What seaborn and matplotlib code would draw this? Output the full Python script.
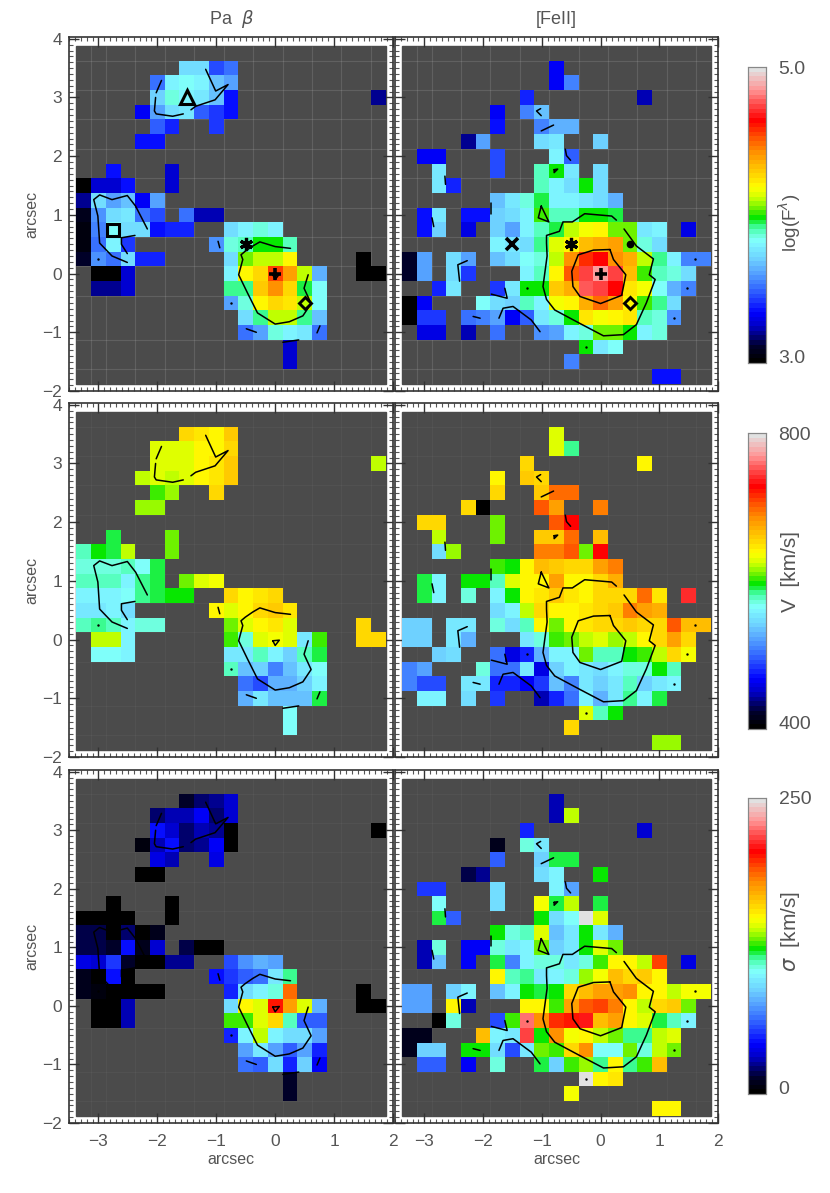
import numpy as np
import pandas as pd
import matplotlib
matplotlib.use("Agg")
import matplotlib.pyplot as plt
import seaborn as sns
from matplotlib.colors import LinearSegmentedColormap
from matplotlib.patches import Rectangle
from matplotlib.ticker import MultipleLocator
from matplotlib.transforms import Affine2D

N_COLS = 21
N_ROWS = 23
PIX = 0.25


def row(segments=None):
    # segments = {first column: [values]}, everything else has no data
    cells = [np.nan] * N_COLS
    for start, values in (segments or {}).items():
        cells[start:start + len(values)] = values
    return cells


x_centers = [-3.25 + PIX * i for i in range(N_COLS)]
y_centers = [3.75 - PIX * i for i in range(N_ROWS)]

# log flux, Pa beta
flux_pab = [
    row(),
    row({7: [3.72, 3.72, 3.44, 3.50]}),
    row({5: [3.52, 3.80, 3.84, 3.80, 3.66, 3.62]}),
    row({5: [3.70, 3.87, 3.80, 3.78, 3.68, 3.35], 20: [3.20]}),
    row({4: [3.33, 3.62, 3.72, 3.75, 3.48, 3.42, 3.36]}),
    row({5: [3.47, 3.38], 9: [3.42]}),
    row({4: [3.37, 3.37]}),
    row(),
    row({2: [3.37], 6: [3.25]}),
    row({0: [3.00, 3.28, 3.28, 3.35], 6: [3.25]}),
    row({0: [3.20, 3.72, 3.62, 3.68, 3.33, 3.60]}),
    row({0: [3.07, 3.58, 3.72, 3.78, 3.52, 3.46], 7: [3.52, 3.24, 3.24]}),
    row({0: [3.05, 3.56, 3.82, 3.72, 3.72, 3.35, 3.40, 3.40], 10: [3.72, 3.80, 3.87, 3.80]}),
    row({0: [3.05, 3.52, 3.80, 3.42], 9: [3.58, 3.87, 3.90, 3.98, 3.98, 3.90]}),
    row({0: [3.10, 3.58, 3.52, 3.72, 3.40, 3.40], 10: [3.72, 4.05, 4.12, 4.12, 4.19], 19: [3.00]}),
    row({1: [3.00, 3.00, 3.28], 10: [3.80, 4.20, 4.27, 4.55, 4.40, 4.10, 3.65], 19: [3.00, 3.00]}),
    row({1: [3.20, 3.20, 3.28], 10: [3.92, 3.92, 4.30, 4.42, 4.25, 3.94, 3.82]}),
    row({10: [3.60, 3.85, 4.19, 4.25, 4.22, 4.12, 3.82]}),
    row({11: [3.72, 3.93, 4.10, 4.10, 3.93, 3.66]}),
    row({11: [3.50, 3.62, 3.87, 3.80, 3.78, 3.52]}),
    row({14: [3.28]}),
    row({14: [3.28]}),
    row(),
]

# log flux, [FeII]
flux_fe = [
    row(),
    row({10: [3.33]}),
    row({10: [3.33, 3.55]}),
    row({8: [3.40], 16: [3.22]}),
    row({6: [3.33], 8: [3.55, 3.66]}),
    row({6: [3.36], 9: [3.55, 3.65, 3.65]}),
    row({4: [3.20, 3.62], 9: [3.72, 3.75], 13: [3.70]}),
    row({1: [3.33, 3.33], 6: [3.44], 10: [3.80, 3.47]}),
    row({2: [3.78], 6: [3.44], 9: [3.90, 3.97, 3.78], 13: [3.72]}),
    row({2: [3.75, 3.40], 9: [3.88, 3.80, 3.74, 3.98, 3.72]}),
    row({6: [3.66, 3.75, 3.85, 3.94, 3.80, 3.80, 3.78, 3.74, 3.64]}),
    row({1: [3.36, 3.75], 4: [3.37, 3.37, 3.70, 3.73, 3.80, 4.00, 3.88, 3.88, 3.98, 3.97, 3.94]}),
    row({1: [3.36, 3.70], 4: [3.30], 6: [3.70, 3.62, 3.80, 3.90, 3.94, 4.10, 4.18, 4.19, 4.06, 4.05, 3.75, 3.80], 19: [3.30]}),
    row({6: [3.80, 3.78, 3.72, 3.92, 4.15, 4.20, 4.32, 4.36, 4.40, 4.05, 3.86, 3.74]}),
    row({0: [3.10, 3.62], 3: [3.72, 3.62], 6: [3.68, 3.72, 3.82, 3.87, 4.10, 4.42, 4.58, 4.65, 4.42, 4.36, 4.10, 3.92, 3.80, 3.55, 3.55]}),
    row({0: [3.10, 3.62], 3: [3.74, 3.42], 8: [3.80, 3.90, 4.19, 4.50, 4.72, 4.85, 4.72, 4.33, 4.02, 3.88, 3.85, 3.72]}),
    row({2: [3.38, 3.75], 6: [3.42, 3.75, 3.98, 3.98, 4.30, 4.36, 4.78, 4.72, 4.65, 4.22, 4.17, 3.82, 3.65, 3.55]}),
    row({0: [3.00, 3.33], 5: [3.82, 3.74, 3.70, 3.90, 3.80, 4.17, 4.20, 4.35, 4.47, 4.38, 4.20, 4.02, 3.92, 3.72]}),
    row({0: [3.00, 3.42, 3.42], 4: [3.52, 3.55, 3.62, 3.33, 3.48, 3.78, 3.87, 3.98, 4.23, 4.18, 4.20, 4.22, 3.88, 3.85, 3.58]}),
    row({1: [3.30, 3.30], 4: [3.22], 6: [3.50], 9: [3.58, 3.62, 3.80, 3.87, 4.05, 4.06, 3.98, 3.80, 3.85]}),
    row({12: [3.98, 3.78, 3.82]}),
    row({11: [3.55]}),
    row({17: [3.36, 3.36]}),
]

# velocity, Pa beta
vel_pab = [
    row(),
    row({7: [650, 648, 638, 660]}),
    row({5: [625, 630, 625, 638, 640, 655]}),
    row({5: [630, 628, 628, 640, 645, 660], 20: [620]}),
    row({4: [622, 630, 620, 628, 640, 648, 660]}),
    row({5: [605, 618], 9: [652]}),
    row({4: [615, 615]}),
    row(),
    row({2: [588], 6: [610]}),
    row({0: [578, 596, 592, 622], 6: [610]}),
    row({0: [572, 572, 572, 575, 568, 588]}),
    row({0: [575, 575, 578, 562, 585, 588], 7: [612, 630, 632]}),
    row({0: [558, 558, 558, 564, 584, 590, 598, 598], 10: [655, 640, 648, 650]}),
    row({0: [554, 556, 560, 545], 9: [638, 625, 640, 650, 662, 645]}),
    row({0: [580, 585, 575, 560, 572, 572], 10: [612, 630, 638, 645, 630], 19: [652]}),
    row({1: [622, 622, 560], 10: [602, 572, 628, 635, 628, 555, 606], 19: [652, 652]}),
    row({1: [568, 568, 560], 10: [552, 552, 575, 558, 542, 575, 590]}),
    row({10: [580, 535, 540, 510, 535, 550, 566]}),
    row({11: [500, 490, 530, 530, 542, 558]}),
    row({11: [525, 550, 532, 535, 535, 590]}),
    row({14: [568]}),
    row({14: [568]}),
    row(),
]

# velocity, [FeII]
vel_fe = [
    row(),
    row({10: [630]}),
    row({10: [630, 585]}),
    row({8: [652], 16: [640]}),
    row({6: [640], 8: [660, 655]}),
    row({6: [652], 9: [658, 695, 695]}),
    row({4: [650, 400], 9: [705, 680], 13: [690]}),
    row({1: [650, 650], 6: [612], 10: [705, 725]}),
    row({2: [622], 6: [612], 9: [660, 662, 695], 13: [665]}),
    row({2: [545, 618], 9: [690, 690, 705, 612, 730]}),
    row({6: [604, 595, 638, 668, 660, 655, 650, 675, 690]}),
    row({1: [592, 560], 4: [594, 594, 580, 625, 638, 640, 675, 640, 640, 650, 670]}),
    row({1: [592, 562], 4: [570], 6: [560, 594, 640, 645, 660, 648, 640, 652, 650, 650, 695, 648], 19: [738]}),
    row({6: [548, 560, 622, 650, 640, 640, 645, 650, 660, 688, 675, 672]}),
    row({0: [540, 540], 3: [550, 555], 6: [570, 548, 575, 640, 610, 640, 645, 650, 655, 660, 655, 650, 705, 665, 665]}),
    row({0: [540, 540], 3: [555, 525], 8: [555, 570, 600, 610, 620, 630, 615, 622, 640, 650, 675, 650]}),
    row({2: [540, 548], 6: [505, 462, 480, 525, 560, 562, 612, 578, 578, 595, 605, 622, 650, 632]}),
    row({0: [510, 522], 5: [572, 505, 500, 555, 462, 540, 558, 552, 545, 558, 570, 572, 595, 580]}),
    row({0: [510, 490, 490], 4: [555, 555, 480, 475, 465, 485, 535, 510, 550, 540, 555, 578, 538, 552, 560]}),
    row({1: [562, 562], 4: [545], 6: [484], 9: [445, 478, 505, 562, 525, 555, 585, 562, 588]}),
    row({12: [625, 578, 596]}),
    row({11: [652]}),
    row({17: [618, 618]}),
]

# velocity dispersion, Pa beta
sig_pab = [
    row(),
    row({7: [15, 22, 25, 33]}),
    row({5: [20, 28, 28, 40, 22, 32]}),
    row({5: [44, 32, 22, 28, 24, 3], 20: [0]}),
    row({4: [6, 30, 44, 22, 24, 40, 3]}),
    row({5: [36, 30], 9: [38]}),
    row({4: [0, 0]}),
    row(),
    row({2: [0], 6: [0]}),
    row({0: [0, 0, 0, 0], 6: [0]}),
    row({0: [18, 18, 2, 20, 0, 8]}),
    row({0: [18, 18, 14, 46, 10, 34], 7: [18, 0, 0]}),
    row({0: [36, 34, 52, 14, 0, 0, 26, 26], 10: [58, 74, 82, 76]}),
    row({0: [10, 2, 46, 2], 9: [44, 52, 60, 66, 94, 114]}),
    row({0: [8, 6, 2, 2, 2, 2], 10: [50, 92, 100, 108, 185], 19: [0]}),
    row({1: [1, 1, 28], 10: [92, 149, 144, 200, 175, 142, 82], 19: [0, 0]}),
    row({1: [1, 1, 28], 10: [128, 128, 144, 158, 110, 62, 62]}),
    row({10: [48, 100, 138, 100, 92, 92, 76]}),
    row({11: [78, 96, 76, 62, 78, 50]}),
    row({11: [66, 62, 92, 50, 88, 40]}),
    row({14: [14]}),
    row({14: [14]}),
    row(),
]

# velocity dispersion, [FeII]
sig_fe = [
    row(),
    row({10: [28]}),
    row({10: [28, 140]}),
    row({8: [48], 16: [34]}),
    row({6: [8], 8: [108, 96]}),
    row({6: [62], 9: [86, 120, 120]}),
    row({4: [16, 26], 9: [92, 98], 13: [124]}),
    row({1: [52, 52], 6: [90], 10: [98, 78]}),
    row({2: [104], 6: [90], 9: [146, 118, 140], 13: [120]}),
    row({2: [118, 62], 9: [124, 90, 104, 248, 142]}),
    row({6: [124, 106, 110, 142, 84, 94, 124, 94, 80]}),
    row({1: [30, 108], 4: [40, 40, 108, 96, 98, 130, 88, 94, 124, 144, 132]}),
    row({1: [30, 84], 4: [40], 6: [118, 70, 100, 106, 106, 96, 108, 128, 152, 150, 140, 192], 19: [38]}),
    row({6: [150, 112, 114, 94, 100, 108, 136, 146, 165, 160, 164, 150]}),
    row({0: [76, 76], 3: [86, 100], 6: [84, 98, 124, 118, 124, 158, 166, 172, 175, 178, 150, 152, 138, 148, 148]}),
    row({0: [76, 76], 3: [150, 28], 8: [150, 152, 128, 175, 190, 195, 182, 152, 138, 158, 162, 132]}),
    row({2: [0, 108], 6: [58, 128, 225, 178, 198, 200, 210, 166, 172, 150, 142, 120, 112, 98]}),
    row({0: [10, 8], 5: [166, 100, 96, 216, 122, 178, 148, 152, 140, 130, 116, 116, 140, 144]}),
    row({0: [10, 88, 88], 4: [122, 122, 90, 56, 95, 130, 126, 158, 178, 104, 104, 130, 108, 138, 132]}),
    row({1: [62, 62], 4: [40], 6: [108], 9: [120, 88, 125, 135, 115, 150, 115, 126, 165]}),
    row({12: [248, 150, 155]}),
    row({11: [146]}),
    row({17: [150, 150]}),
]

# contours of the integrated line maps, arcsec
contours_pab = [
    [(-1.93, 3.29), (-2.02, 3.08)],
    [(-2.03, 3.00), (-2.05, 2.77), (-2.02, 2.72), (-1.74, 2.68), (-1.56, 2.72)],
    [(-1.43, 2.79), (-1.35, 2.85), (-1.02, 2.96), (-0.80, 3.22), (-1.01, 3.11), (-1.18, 3.48)],
    [(-2.17, 0.76), (-2.37, 1.15), (-2.51, 1.33), (-2.77, 1.26), (-2.98, 1.34), (-3.08, 1.26),
     (-3.01, 0.98), (-2.98, 0.52), (-2.77, 0.30), (-2.51, 0.19)],
    [(-2.51, 0.34), (-2.61, 0.50), (-2.61, 0.61), (-2.38, 0.65)],
    [(0.26, 0.43), (0.00, 0.46), (-0.26, 0.54), (-0.38, 0.47), (-0.51, 0.38), (-0.58, 0.32),
     (-0.55, 0.24), (-0.62, -0.02), (-0.47, -0.33), (-0.30, -0.67), (0.00, -0.86), (0.24, -0.82),
     (0.47, -0.72), (0.61, -0.51), (0.49, -0.25), (0.56, -0.02)],
    [(-0.97, 0.55), (-0.94, 0.44)],
    [(-0.49, -0.94), (-0.32, -1.00)],
    [(0.76, -0.89), (0.71, -1.01)],
    [(0.13, -1.17), (0.40, -1.13)],
    [(-0.04, -0.02), (0.07, -0.01), (0.00, -0.10), (-0.04, -0.02)],
]
contours_fe = [
    [(0.27, 0.91), (0.19, 0.98), (-0.27, 1.02), (-0.48, 0.88), (-0.64, 0.88), (-0.70, 0.72),
     (-0.92, 0.65), (-0.92, 0.52), (-0.91, 0.30), (-0.98, -0.22), (-0.92, -0.44), (-0.78, -0.62),
     (-0.35, -0.85), (0.05, -1.06), (0.39, -1.04), (0.61, -0.87), (0.78, -0.50), (0.93, -0.10),
     (0.83, -0.02), (0.90, 0.25), (0.61, 0.47), (0.40, 0.76)],
    [(0.16, 0.41), (-0.12, 0.40), (-0.38, 0.32), (-0.49, 0.04), (-0.47, -0.22), (-0.35, -0.39),
     (0.00, -0.51), (0.36, -0.37), (0.43, -0.02), (0.22, 0.24), (0.16, 0.41)],
    [(-1.01, 1.15), (-1.06, 0.95), (-0.88, 0.88), (-1.01, 1.15)],
    [(-1.03, -0.99), (-1.18, -0.79), (-1.49, -0.56), (-1.66, -0.59), (-1.73, -0.76)],
    [(-1.63, -0.25), (-1.59, -0.42), (-1.86, -0.35)],
    [(-2.27, 0.22), (-2.43, 0.15), (-2.40, -0.13)],
    [(-2.17, -0.73), (-2.05, -0.76)],
    [(-2.87, 0.95), (-2.84, 0.80)],
    [(-2.65, 1.66), (-2.64, 1.52)],
    [(-1.86, 1.20), (-1.86, 1.02)],
    [(-1.02, 2.81), (-1.09, 2.77), (-1.01, 2.69)],
    [(-1.01, 2.43), (-0.80, 2.53)],
    [(-0.60, 2.12), (-0.58, 2.01), (-0.51, 1.93)],
    [(-0.79, 1.77), (-0.73, 1.78), (-0.79, 1.72), (-0.79, 1.77)],
]
specks_pab = [(-3.0, 0.25), (-0.75, -0.5)]
specks_fe = [(-1.25, -0.25), (1.60, 0.25), (1.48, -0.25), (1.25, -0.75), (-0.25, -1.25)]

# marked positions: x, y, marker style
marks_pab = [(-1.5, 3.0, "tri"), (-2.75, 0.75, "sq"), (-0.5, 0.5, "ast"), (0.0, 0.0, "plus"), (0.5, -0.5, "dia")]
marks_fe = [(-1.5, 0.5, "x"), (-0.5, 0.5, "ast"), (0.0, 0.0, "plus"), (0.5, -0.5, "dia"), (0.5, 0.5, "dot")]

x_ticks = [-3, -2, -1, 0, 1, 2]
x_tick_labels = ["\u22123", "\u22122", "\u22121", "0", "1", "2"]
y_ticks = [-2, -1, 0, 1, 2, 3, 4]
y_tick_labels = ["\u22122", "\u22121", "0", "1", "2", "3", "4"]

cmap_stops = [
    (0.0, "#000000"), (0.05, "#00002a"), (0.12, "#0000c8"), (0.165, "#0000ff"), (0.21, "#1e3cff"),
    (0.26, "#3c78ff"), (0.31, "#5aaaff"), (0.35, "#6ed2ff"), (0.385, "#78ebff"), (0.41, "#82ffff"),
    (0.43, "#6effdc"), (0.455, "#46ffaa"), (0.49, "#00e600"), (0.52, "#64f000"), (0.55, "#b4ff00"),
    (0.575, "#e6ff00"), (0.595, "#ffff00"), (0.63, "#ffdc00"), (0.665, "#ffbe00"), (0.71, "#ff9600"),
    (0.76, "#ff5a00"), (0.825, "#ff0000"), (0.87, "#ff3c3c"), (0.93, "#ff9696"), (1.0, "#e1e1e1"),
]
cmap = LinearSegmentedColormap.from_list("idl_rainbow", cmap_stops, N=64)

TEXT = "#555555"
BG = "#4b4b4b"
FIG_W, FIG_H = 830, 1193

sns.set_theme(style="white")
plt.rcParams["font.family"] = ["Liberation Sans", "DejaVu Sans"]
plt.rcParams["mathtext.fontset"] = "dejavusans"


def px_axes(fig, x0, y0, x1, y1):
    return fig.add_axes([x0 / FIG_W, 1 - y1 / FIG_H, (x1 - x0) / FIG_W, (y1 - y0) / FIG_H])


def draw_panel(ax, data, vmin, vmax, contours, marks, specks, grid_alpha, cax=None):
    df = pd.DataFrame(data, index=y_centers, columns=x_centers)
    sns.heatmap(df, ax=ax, cmap=cmap, vmin=vmin, vmax=vmax, xticklabels=False, yticklabels=False,
                cbar=cax is not None, cbar_ax=cax, square=False)
    # heatmap works in cell numbers, move the mesh to arcsec
    mesh = ax.collections[0]
    mesh.set_transform(Affine2D().scale(PIX, -PIX).translate(-3.375, 3.875) + ax.transData)
    mesh.set_zorder(2)

    ax.add_patch(Rectangle((-3.375, -1.875), N_COLS * PIX, N_ROWS * PIX, color=BG, zorder=0))
    ax.vlines([-3.125, -2.875, -2.375, -1.875, -1.375, -0.875, -0.375, 0.125, 0.625, 1.125, 1.625],
              -1.875, 3.875, color="#d0d0d0", lw=0.8, alpha=grid_alpha, zorder=1)
    ax.hlines([3.625, 3.125, 2.625, 2.125, 1.625, 1.125, 0.625, 0.125, -0.375, -1.125, -1.625],
              -3.375, 1.875, color="#d0d0d0", lw=0.8, alpha=grid_alpha, zorder=1)

    for line in contours:
        xs, ys = zip(*line)
        ax.plot(xs, ys, color="black", lw=1.1, zorder=3)
    for sx, sy in specks:
        ax.plot(sx, sy, ".", color="black", ms=1.5, zorder=3)

    styles = {
        "tri": dict(marker="^", ms=10, mfc="none", mew=2.2),
        "sq": dict(marker="s", ms=8, mfc="none", mew=2.2),
        "ast": dict(marker=(6, 2, 0), ms=9.5, mew=2.3),
        "plus": dict(marker="+", ms=8.5, mew=2.6),
        "dia": dict(marker="D", ms=6.5, mfc="none", mew=2.1),
        "x": dict(marker="x", ms=9, mew=2.6),
        "dot": dict(marker="o", ms=4.5),
    }
    for mx, my, kind in marks:
        ax.plot(mx, my, color="black", zorder=4, **styles[kind])

    ax.set_xlim(-3.5, 2)
    ax.set_ylim(-2, 4.03)
    ax.set_xticks(x_ticks, labels=x_tick_labels)
    ax.set_yticks(y_ticks, labels=y_tick_labels)
    ax.xaxis.set_minor_locator(MultipleLocator(0.1))
    ax.yaxis.set_minor_locator(MultipleLocator(0.1))
    ax.tick_params(which="major", direction="in", length=7, width=1, color="#333333",
                   top=True, right=True, bottom=True, left=True, labelsize=12.5,
                   labelcolor=TEXT)
    ax.tick_params(axis="x", which="major", pad=8)
    ax.tick_params(axis="y", which="major", pad=5)
    ax.tick_params(which="minor", direction="in", length=3, width=0.8, color="#555555",
                   top=True, right=True, bottom=True, left=True)
    for spine in ax.spines.values():
        spine.set_visible(True)
        spine.set_color("#333333")
        spine.set_linewidth(1.2)


def style_bar(cax, vmin, vmax, labels):
    cax.set_yticks([vmin, vmax])
    cax.set_yticklabels(labels)
    cax.tick_params(length=0, labelsize=14, labelcolor=TEXT, right=True, pad=9)
    cax.get_yticklabels()[0].set_va("baseline")
    for spine in cax.spines.values():
        spine.set_visible(True)
        spine.set_color("#888888")
        spine.set_linewidth(0.8)


fig = plt.figure(figsize=(FIG_W / 100, FIG_H / 100), dpi=100)

row_spans = [(37, 391), (403, 757), (770, 1123)]
bar_spans = [(67, 363), (433, 729), (798, 1094)]
bar_label_y = [223, 571, 932]
bar_label_size = [13.5, 15, 15]
panels = [
    (flux_pab, flux_fe, 3.0, 5.0, ["3.0", "5.0"], r"log(F$^{\lambda}$)"),
    (vel_pab, vel_fe, 400, 800, ["400", "800"], "V  [km/s]"),
    (sig_pab, sig_fe, 0, 250, ["0", "250"], r"$\sigma$  [km/s]"),
]
grid_alphas = [0.16, 0.05, 0.05]

for i, (left, right, vmin, vmax, bar_labels, bar_text) in enumerate(panels):
    y0, y1 = row_spans[i]
    ax_l = px_axes(fig, 69, y0, 393, y1)
    ax_r = px_axes(fig, 395, y0, 718, y1)
    cax = px_axes(fig, 748, bar_spans[i][0], 766, bar_spans[i][1])

    draw_panel(ax_l, left, vmin, vmax, contours_pab, marks_pab if i == 0 else [], specks_pab, grid_alphas[i], cax=cax)
    draw_panel(ax_r, right, vmin, vmax, contours_fe, marks_fe if i == 0 else [], specks_fe, grid_alphas[i])
    style_bar(cax, vmin, vmax, bar_labels)

    fig.text(790 / FIG_W, 1 - bar_label_y[i] / FIG_H, bar_text, rotation=90, ha="center", va="center",
             fontsize=bar_label_size[i], color=TEXT)

    ax_r.tick_params(labelleft=False)
    ax_l.set_ylabel("arcsec", fontsize=11.5, color=TEXT)
    ax_l.yaxis.set_label_coords(-30 / 324, 0.5)
    if i < 2:
        ax_l.tick_params(labelbottom=False)
        ax_r.tick_params(labelbottom=False)
    else:
        for ax in (ax_l, ax_r):
            ax.set_xlabel("arcsec", fontsize=11.5, color=TEXT)
            ax.xaxis.set_label_coords(0.5, -29 / 353)
    if i == 0:
        ax_l.set_title(r"Pa  $\beta$", fontsize=13, color=TEXT, pad=9)
        ax_r.set_title("[FeII]", fontsize=13, color=TEXT, pad=9)

fig.savefig("out.png", dpi=100)
